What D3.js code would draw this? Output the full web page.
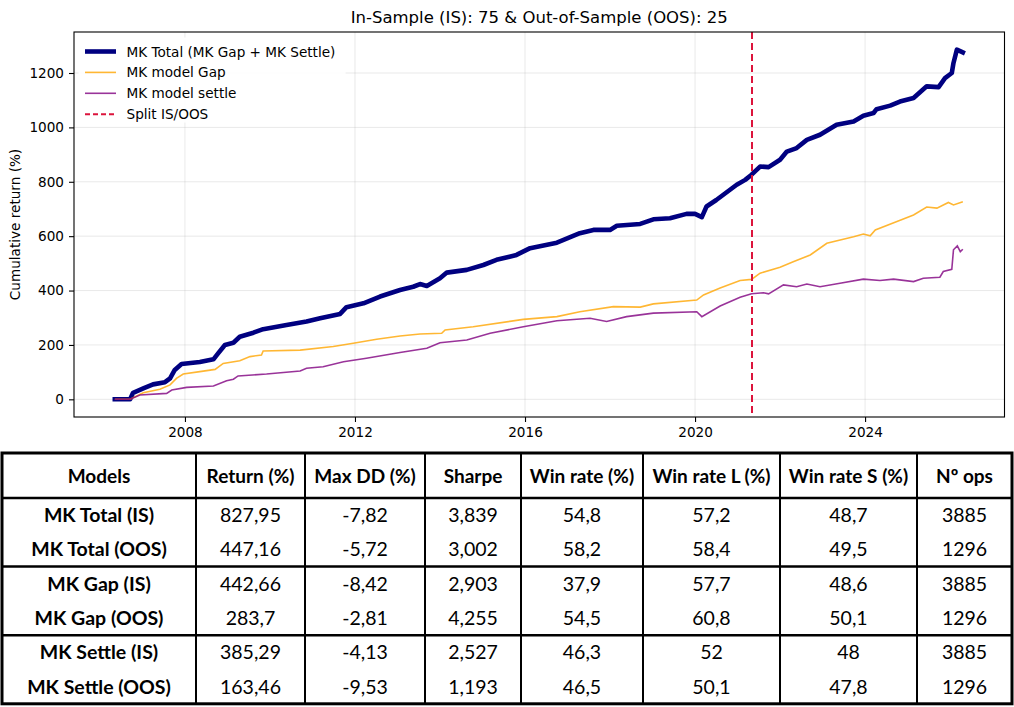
<!DOCTYPE html>
<html>
<head>
<meta charset="utf-8">
<script src="https://cdn.jsdelivr.net/npm/d3@7"></script>
<style>
  body { margin: 0; background: #fff; }
  svg { display: block; }
</style>
</head>
<body>
<svg id="chart" width="1014" height="707"></svg>
<script>
// cumulative return curves (decimal year, %)
var totalYears = [2006.35, 2006.71, 2006.78, 2007.02, 2007.25, 2007.53, 2007.65, 2007.76, 2007.92, 2008.35, 2008.67, 2008.78, 2008.94, 2009.14, 2009.29, 2009.61, 2009.84, 2010.39, 2010.86, 2011.18, 2011.65, 2011.80, 2012.20, 2012.59, 2013.06, 2013.37, 2013.53, 2013.69, 2014.00, 2014.16, 2014.63, 2015.02, 2015.33, 2015.80, 2016.12, 2016.75, 2017.29, 2017.61, 2018.00, 2018.16, 2018.71, 2019.02, 2019.41, 2019.80, 2020.00, 2020.16, 2020.27, 2020.50, 2020.98, 2021.18, 2021.33, 2021.53, 2021.73, 2022.00, 2022.16, 2022.39, 2022.63, 2022.94, 2023.33, 2023.73, 2023.96, 2024.20, 2024.27, 2024.59, 2024.82, 2025.14, 2025.45, 2025.73, 2025.88, 2026.04, 2026.08, 2026.16, 2026.30]
var totalValues = [0, 0, 24, 40, 55, 63, 77, 108, 130, 137, 147, 169, 200, 208, 230, 245, 258, 273, 286, 298, 314, 339, 353, 378, 402, 414, 424, 417, 445, 466, 476, 494, 513, 531, 556, 576, 611, 623, 623, 638, 645, 662, 666, 682, 682, 670, 709, 733, 789, 807, 826, 856, 854, 881, 911, 924, 954, 973, 1010, 1022, 1043, 1053, 1067, 1080, 1095, 1108, 1151, 1148, 1181, 1200, 1237, 1286, 1276]

var gapYears = [2006.35, 2006.71, 2007.02, 2007.41, 2007.65, 2007.80, 2007.96, 2008.35, 2008.71, 2008.90, 2009.29, 2009.53, 2009.80, 2009.84, 2010.71, 2011.49, 2011.96, 2012.51, 2013.06, 2013.53, 2014.04, 2014.12, 2014.78, 2015.96, 2016.75, 2017.29, 2018.08, 2018.71, 2019.02, 2020.04, 2020.20, 2020.59, 2021.06, 2021.33, 2021.53, 2022.00, 2022.31, 2022.71, 2023.10, 2023.73, 2023.96, 2024.12, 2024.24, 2024.75, 2025.14, 2025.45, 2025.69, 2025.96, 2026.08, 2026.30]
var gapValues = [0, 0, 24, 37, 53, 77, 93, 102, 110, 132, 142, 157, 163, 178, 181, 194, 206, 221, 233, 240, 243, 255, 267, 294, 304, 322, 341, 339, 351, 365, 384, 409, 437, 441, 464, 486, 506, 531, 574, 598, 608, 601, 623, 654, 678, 707, 703, 724, 715, 727]

var settleYears = [2006.35, 2006.71, 2006.94, 2007.57, 2007.69, 2008.04, 2008.67, 2008.98, 2009.14, 2009.25, 2009.92, 2010.71, 2010.86, 2011.25, 2011.73, 2012.27, 2013.06, 2013.69, 2014.00, 2014.63, 2015.18, 2015.96, 2016.75, 2017.53, 2017.92, 2018.39, 2019.02, 2020.04, 2020.16, 2020.59, 2021.06, 2021.33, 2021.61, 2021.73, 2022.08, 2022.39, 2022.63, 2022.94, 2023.41, 2023.96, 2024.35, 2024.67, 2025.14, 2025.37, 2025.76, 2025.84, 2026.04, 2026.08, 2026.17, 2026.24, 2026.30]
var settleValues = [0, 0, 16, 22, 34, 44, 49, 68, 74, 86, 93, 104, 114, 120, 138, 151, 172, 188, 208, 218, 243, 267, 289, 298, 286, 304, 317, 322, 304, 343, 375, 388, 392, 388, 421, 414, 424, 414, 427, 442, 437, 442, 433, 445, 449, 470, 478, 550, 564, 543, 552]

var splitYear = 2021.34
var xTicks = [2008, 2012, 2016, 2020, 2024]
var yTicks = [0, 200, 400, 600, 800, 1000, 1200]

var legendLabels = ['MK Total (MK Gap + MK Settle)', 'MK model Gap', 'MK model settle', 'Split IS/OOS']

// summary table
var tableHeaders = ['Models', 'Return (%)', 'Max DD (%)', 'Sharpe', 'Win rate (%)', 'Win rate L (%)', 'Win rate S (%)', 'Nº ops']
var models = ['MK Total (IS)', 'MK Total (OOS)', 'MK Gap (IS)', 'MK Gap (OOS)', 'MK Settle (IS)', 'MK Settle (OOS)']
var returns = ['827,95', '447,16', '442,66', '283,7', '385,29', '163,46']
var maxDD = ['-7,82', '-5,72', '-8,42', '-2,81', '-4,13', '-9,53']
var sharpe = ['3,839', '3,002', '2,903', '4,255', '2,527', '1,193']
var winRate = ['54,8', '58,2', '37,9', '54,5', '46,3', '46,5']
var winRateL = ['57,2', '58,4', '57,7', '60,8', '52', '50,1']
var winRateS = ['48,7', '49,5', '48,6', '50,1', '48', '47,8']
var nOps = ['3885', '1296', '3885', '1296', '3885', '1296']

var svg = d3.select('#chart'),
    font = '"DejaVu Sans", sans-serif',
    pLeft = 74, pRight = 1004.5, pTop = 32, pBottom = 417

var x = d3.scaleLinear().domain([2005.39, 2027.28]).range([pLeft, pRight]),
    y = d3.scaleLinear().domain([-65, 1350.8]).range([pBottom, pTop])

// grid
var grid = svg.append('g').attr('stroke', '#b0b0b0').attr('stroke-opacity', 0.35).attr('stroke-width', 0.8)
xTicks.forEach(function(t){
    grid.append('line').attr('x1', x(t)).attr('x2', x(t)).attr('y1', pTop).attr('y2', pBottom)
})
yTicks.forEach(function(t){
    grid.append('line').attr('x1', pLeft).attr('x2', pRight).attr('y1', y(t)).attr('y2', y(t))
})

svg.append('clipPath').attr('id', 'plot')
    .append('rect').attr('x', pLeft).attr('y', pTop).attr('width', pRight - pLeft).attr('height', pBottom - pTop)

function pairs(xs, ys){ return xs.map(function(d, i){ return [d, ys[i]] }) }

var line = d3.line().x(function(d){ return x(d[0]) }).y(function(d){ return y(d[1]) })

var plot = svg.append('g').attr('clip-path', 'url(#plot)')

plot.append('path').datum(pairs(totalYears, totalValues))
    .attr('d', line).attr('fill', 'none').attr('stroke', '#000080')
    .attr('stroke-width', 4.6).attr('stroke-linejoin', 'round').attr('stroke-linecap', 'square')

plot.append('path').datum(pairs(gapYears, gapValues))
    .attr('d', line).attr('fill', 'none').attr('stroke', '#ffa500').attr('stroke-opacity', 0.8)
    .attr('stroke-width', 1.6)

plot.append('path').datum(pairs(settleYears, settleValues))
    .attr('d', line).attr('fill', 'none').attr('stroke', '#800080').attr('stroke-opacity', 0.8)
    .attr('stroke-width', 1.6)

plot.append('line')
    .attr('x1', x(splitYear)).attr('x2', x(splitYear)).attr('y1', pTop).attr('y2', pBottom)
    .attr('stroke', '#dc143c').attr('stroke-width', 2).attr('stroke-dasharray', '7,4')

// axes
var xAxis = svg.append('g').attr('transform', 'translate(0,' + pBottom + ')')
    .call(d3.axisBottom(x).tickValues(xTicks).tickFormat(d3.format('d')).tickSize(5).tickPadding(5))
var yAxis = svg.append('g').attr('transform', 'translate(' + pLeft + ',0)')
    .call(d3.axisLeft(y).tickValues(yTicks).tickFormat(d3.format('d')).tickSize(5).tickPadding(5))
;[xAxis, yAxis].forEach(function(a){
    a.select('.domain').remove()
    a.selectAll('text').attr('font-family', font).attr('font-size', 13.6).attr('fill', '#000')
    a.selectAll('line').attr('stroke', '#000').attr('stroke-width', 1.1)
})

svg.append('rect').attr('x', pLeft).attr('y', pTop).attr('width', pRight - pLeft).attr('height', pBottom - pTop)
    .attr('fill', 'none').attr('stroke', '#000').attr('stroke-width', 1.1)

svg.append('text').attr('x', (pLeft + pRight) / 2).attr('y', 23)
    .attr('text-anchor', 'middle').attr('font-family', font).attr('font-size', 16.5)
    .text('In-Sample (IS): 75 & Out-of-Sample (OOS): 25')

svg.append('text').attr('transform', 'translate(20,' + (pTop + pBottom) / 2 + ') rotate(-90)')
    .attr('text-anchor', 'middle').attr('font-family', font).attr('font-size', 13.6)
    .text('Cumulative return (%)')

// legend
var legend = svg.append('g')
legend.append('rect').attr('x', 79).attr('y', 38).attr('width', 266).attr('height', 84)
    .attr('rx', 3).attr('fill', '#fff').attr('fill-opacity', 0.9).attr('stroke', '#fff')
var legendStyles = [
    {color: '#000080', width: 4.6, dash: null, opacity: 1},
    {color: '#ffa500', width: 1.6, dash: null, opacity: 0.8},
    {color: '#800080', width: 1.6, dash: null, opacity: 0.8},
    {color: '#dc143c', width: 2, dash: '5,3', opacity: 1}
]
legendLabels.forEach(function(label, i){
    var ly = 51.5 + i * 20.9
    legend.append('line').attr('x1', 85).attr('x2', 116).attr('y1', ly).attr('y2', ly)
        .attr('stroke', legendStyles[i].color).attr('stroke-width', legendStyles[i].width)
        .attr('stroke-opacity', legendStyles[i].opacity)
        .attr('stroke-dasharray', legendStyles[i].dash)
    legend.append('text').attr('x', 126.5).attr('y', ly + 5)
        .attr('font-family', font).attr('font-size', 13.6).text(label)
})

// table
var colWidths = [194, 109, 120, 96, 122, 137, 137, 95],
    tableLeft = 2, tableTop = 453, headH = 45, rowH = 34.3,
    tfont = 'Lato, Carlito, sans-serif'
var colEdges = [tableLeft]
colWidths.forEach(function(w){ colEdges.push(colEdges[colEdges.length - 1] + w) })
var tableRight = colEdges[colEdges.length - 1],
    tableBottom = tableTop + headH + rowH * models.length

var columns = [models, returns, maxDD, sharpe, winRate, winRateL, winRateS, nOps]
var table = svg.append('g')

table.append('rect').attr('x', tableLeft).attr('y', tableTop)
    .attr('width', tableRight - tableLeft).attr('height', tableBottom - tableTop)
    .attr('fill', '#fff').attr('stroke', '#000').attr('stroke-width', 3)

colEdges.slice(1, -1).forEach(function(cx){
    table.append('line').attr('x1', cx).attr('x2', cx).attr('y1', tableTop).attr('y2', tableBottom)
        .attr('stroke', '#000').attr('stroke-width', 2)
})
;[tableTop + headH, tableTop + headH + 2 * rowH, tableTop + headH + 4 * rowH].forEach(function(ry){
    table.append('line').attr('x1', tableLeft).attr('x2', tableRight).attr('y1', ry).attr('y2', ry)
        .attr('stroke', '#000').attr('stroke-width', 2.5)
})

tableHeaders.forEach(function(h, c){
    table.append('text').attr('x', (colEdges[c] + colEdges[c + 1]) / 2).attr('y', tableTop + headH / 2 + 7)
        .attr('text-anchor', 'middle').attr('font-family', tfont).attr('font-weight', 'bold')
        .attr('font-size', 19).text(h)
})
columns.forEach(function(col, c){
    col.forEach(function(v, r){
        table.append('text').attr('x', (colEdges[c] + colEdges[c + 1]) / 2)
            .attr('y', tableTop + headH + rowH * r + rowH / 2 + 7)
            .attr('text-anchor', 'middle').attr('font-family', tfont)
            .attr('font-weight', c === 0 ? 'bold' : 'normal')
            .attr('font-size', 19.5).text(v)
    })
})
</script>
</body>
</html>
